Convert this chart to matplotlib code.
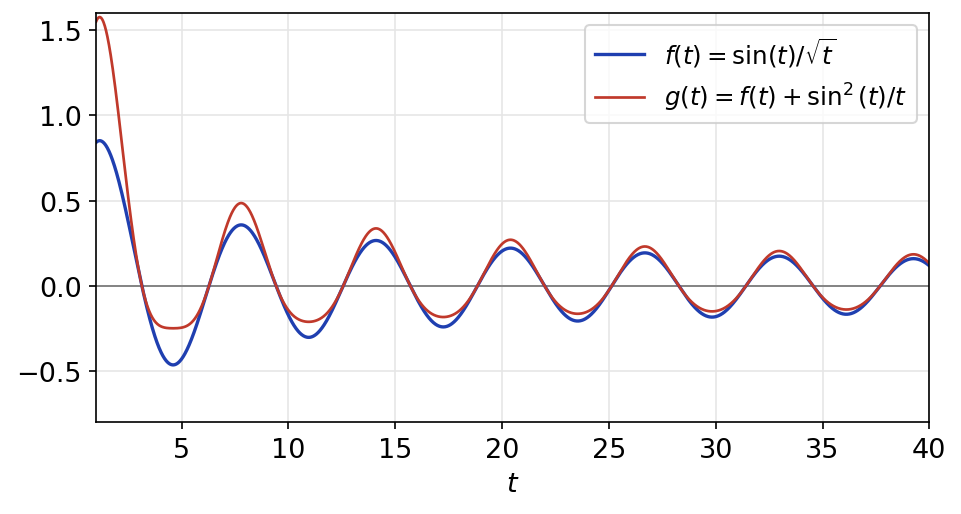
import numpy as np
import matplotlib.pyplot as plt

# curves as given in the legend
t = np.linspace(1, 40, 2000)
f = np.sin(t) / np.sqrt(t)
g = f + np.sin(t)**2 / t

xticks = [5, 10, 15, 20, 25, 30, 35, 40]
yticks = [-0.5, 0.0, 0.5, 1.0, 1.5]

fig, ax = plt.subplots(figsize=(6.407, 3.433), dpi=150)
ax.axhline(0, color='gray', lw=0.9)
ax.plot(t, f, color='#1f3fb0', lw=1.6, label=r'$f(t) = \sin(t)/\sqrt{t}$')
ax.plot(t, g, color='#c0392b', lw=1.3, label=r'$g(t) = f(t) + \sin^2(t)/t$')
ax.set_xlim(1, 40)
ax.set_ylim(-0.8, 1.6)
ax.set_xticks(xticks)
ax.set_yticks(yticks)
ax.grid(True, color='#e6e6e6', lw=0.8)
ax.set_axisbelow(True)
ax.set_xlabel(r'$t$', fontsize=13)
ax.tick_params(labelsize=13)
ax.legend(loc='upper right', fontsize=11.8)
fig.subplots_adjust(left=0.1, right=0.967, top=0.973, bottom=0.178)
fig.savefig('out.png')
